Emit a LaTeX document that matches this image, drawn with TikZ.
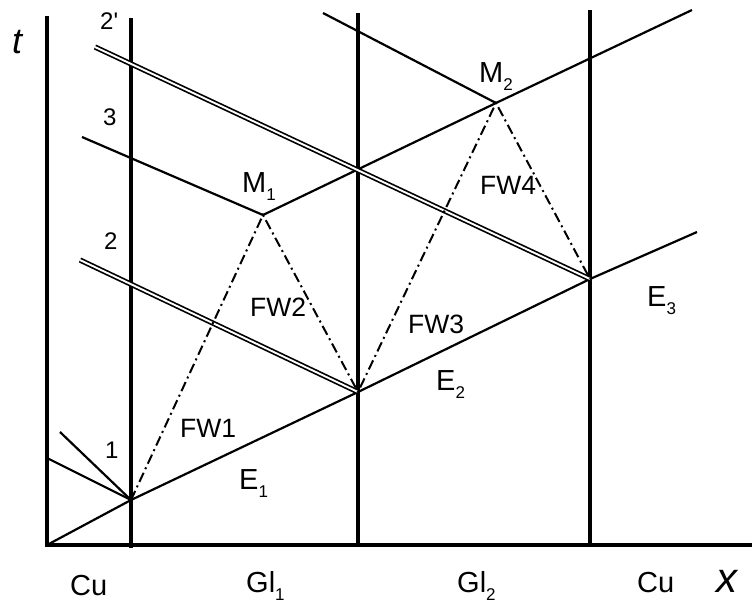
\documentclass[tikz,border=0pt]{standalone}
\usepackage{fontspec}
\setmainfont{Liberation Sans}
\newcommand{\lsub}[1]{\raisebox{-8pt}{\fontsize{17}{17}\selectfont #1}}

\begin{document}
\begin{tikzpicture}[x=1pt, y=-1pt]
    \tikzset{
        axis/.style={line width=3.2pt},
        iface/.style={line width=3.2pt},
        ray/.style={line width=2.2pt},
        shock/.style={double, line width=1.7pt, double distance=1.9pt},
        fan/.style={line width=2pt, dash pattern=on 10pt off 4pt on 2pt off 4pt},
        lbl/.style={anchor=base west, inner sep=0pt, font=\fontsize{29}{34}\selectfont},
        fwlbl/.style={anchor=base west, inner sep=0pt, font=\fontsize{26.5}{30}\selectfont},
        numlbl/.style={anchor=base west, inner sep=0pt, font=\fontsize{24}{28}\selectfont},
    }
    \useasboundingbox (0,0) rectangle (752,603);

    % ==== Points ====
    \coordinate (O) at (47,545);
    \coordinate (tEnd) at (47,16);
    \coordinate (xEnd) at (752,545);
    \coordinate (P1) at (131,500);
    \coordinate (P2) at (358,392);
    \coordinate (P3) at (590,279);
    \coordinate (Pend) at (697,232);
    \coordinate (M1) at (263,215);
    \coordinate (M2) at (496,103);
    \coordinate (Mend) at (692,10);

    % ==== Axes and interfaces ====
    \draw[axis] (tEnd) -- (O) -- (xEnd);
    \coordinate (A0) at (131,18);  \coordinate (A1) at (131,548);
    \coordinate (B0) at (358,13);  \coordinate (B1) at (358,545);
    \coordinate (C0) at (590,10);  \coordinate (C1) at (590,545);
    \draw[iface] (A0) -- (A1);
    \draw[iface] (B0) -- (B1);
    \draw[iface] (C0) -- (C1);

    % ==== Rays ====
    \draw[ray] (O) -- (P1) -- (P2) -- (P3) -- (Pend);
    \draw[ray] (M1) -- (M2) -- (Mend);
    \coordinate (r3) at (82,137);
    \draw[ray] (r3) -- (M1);
    \coordinate (rTop) at (323,13);
    \draw[ray] (rTop) -- (M2);
    \coordinate (r1a) at (47,458);
    \coordinate (r1b) at (60,432);
    \draw[ray] (r1a) -- (P1);
    \draw[ray] (r1b) -- (P1);

    % ==== Shocks ====
    \coordinate (s2) at (80,260);
    \coordinate (s2p) at (95,47);
    \draw[shock] (s2) -- (P2);
    \draw[shock] (s2p) -- (P3);

    % ==== Fans ====
    \draw[fan] (P1) -- (M1) -- (P2) -- (M2) -- (P3);

    % ==== Labels ====
    \node[anchor=base west, inner sep=0pt, font=\fontsize{36}{40}\selectfont\itshape] (lt) at (12,53) {t};
    \node[anchor=base west, inner sep=0pt, font=\fontsize{42}{46}\selectfont\itshape] (lx) at (716,592) {x};
    \node[numlbl] (n2p) at (100,29) {2\textquotesingle};
    \node[numlbl] (n3) at (103,125) {3};
    \node[numlbl] (n2) at (104,249) {2};
    \node[numlbl] (n1) at (105,458) {1};
    \node[lbl] (lM1) at (242,192) {M\lsub{1}};
    \node[lbl] (lM2) at (479,82) {M\lsub{2}};
    \node[fwlbl] (fw1) at (180,437) {FW1};
    \node[fwlbl] (fw2) at (250,316) {FW2};
    \node[fwlbl] (fw3) at (408,333) {FW3};
    \node[fwlbl] (fw4) at (480,194) {FW4};
    \node[lbl] (lE1) at (239,489) {E\lsub{1}};
    \node[lbl] (lE2) at (436,390) {E\lsub{2}};
    \node[lbl] (lE3) at (647,306) {E\lsub{3}};
    \node[lbl] (cu1) at (70,595) {Cu};
    \node[lbl] (gl1) at (246,592) {Gl\lsub{1}};
    \node[lbl] (gl2) at (457,592) {Gl\lsub{2}};
    \node[lbl] (cu2) at (637,592) {Cu};

\end{tikzpicture}
\end{document}
